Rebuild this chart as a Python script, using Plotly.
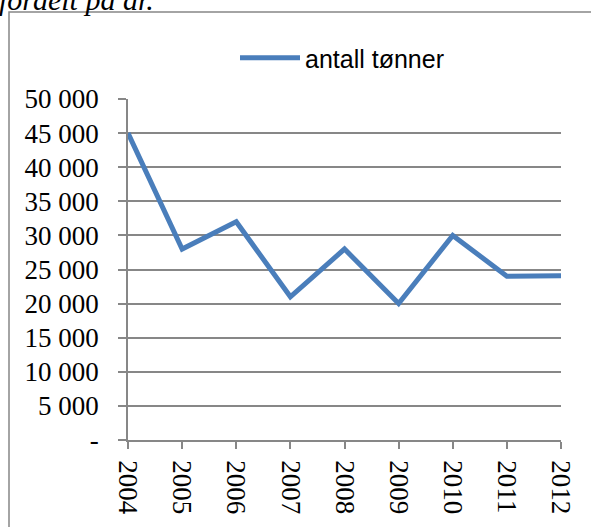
import plotly.graph_objects as go

years = [2004, 2005, 2006, 2007, 2008, 2009, 2010, 2011, 2012]
tonn = [45000, 28000, 32000, 21000, 28000, 20000, 30000, 24000, 24100]
y_ticks = [0, 5000, 10000, 15000, 20000, 25000, 30000, 35000, 40000, 45000, 50000]
y_labels = ["-", "5 000", "10 000", "15 000", "20 000", "25 000",
            "30 000", "35 000", "40 000", "45 000", "50 000"]

W, H = 591, 527
L, R, T, B = 128, 30, 99, 87
pw, ph = W - L - R, H - T - B


def px_x(x):
    return (x - L) / pw


def px_y(y):
    return (H - B - y) / ph


grey = "#878787"
serif = "Liberation Serif, Times New Roman, serif"

fig = go.Figure()
fig.add_trace(go.Scatter(x=years, y=tonn, mode="lines", name="antall tønner",
                         line=dict(color="#4a7ebb", width=5)))

fig.update_layout(
    width=W, height=H,
    margin=dict(l=L, r=R, t=T, b=B),
    paper_bgcolor="white", plot_bgcolor="white",
    showlegend=True,
    legend=dict(orientation="h", x=px_x(235), y=px_y(58), yanchor="middle",
                xanchor="left", font=dict(family="Liberation Sans, Arial", size=25, color="black"),
                itemwidth=60, bgcolor="rgba(0,0,0,0)"),
    shapes=[dict(type="rect", xref="paper", yref="paper",
                 x0=px_x(9), x1=px_x(700), y0=px_y(700), y1=px_y(12),
                 line=dict(color=grey, width=1.5), layer="below")],
    annotations=[dict(text="<i>fordelt på år.</i>", xref="paper", yref="paper",
                      x=px_x(-3), y=px_y(8), xanchor="left", yanchor="bottom",
                      showarrow=False, yshift=-10,
                      font=dict(family=serif, size=30, color="black"))],
)
fig.update_xaxes(range=[2004, 2012], tickvals=years, tickangle=90,
                 showgrid=False, showline=True, linecolor=grey, linewidth=1.5,
                 ticks="outside", ticklen=7, tickcolor=grey, tickwidth=1.5,
                 ticklabelstandoff=6,
                 tickfont=dict(family=serif, size=27, color="black"))
fig.update_yaxes(range=[0, 50000], tickvals=y_ticks, ticktext=y_labels,
                 showgrid=True, gridcolor=grey, gridwidth=1.5, zeroline=False,
                 showline=True, linecolor=grey, linewidth=1.5,
                 ticks="outside", ticklen=8, tickcolor=grey, tickwidth=1.5,
                 ticklabelstandoff=14,
                 tickfont=dict(family=serif, size=27, color="black"))

fig.write_html("out.html", config={"displayModeBar": False},
               post_script="document.body.style.margin='0';")
